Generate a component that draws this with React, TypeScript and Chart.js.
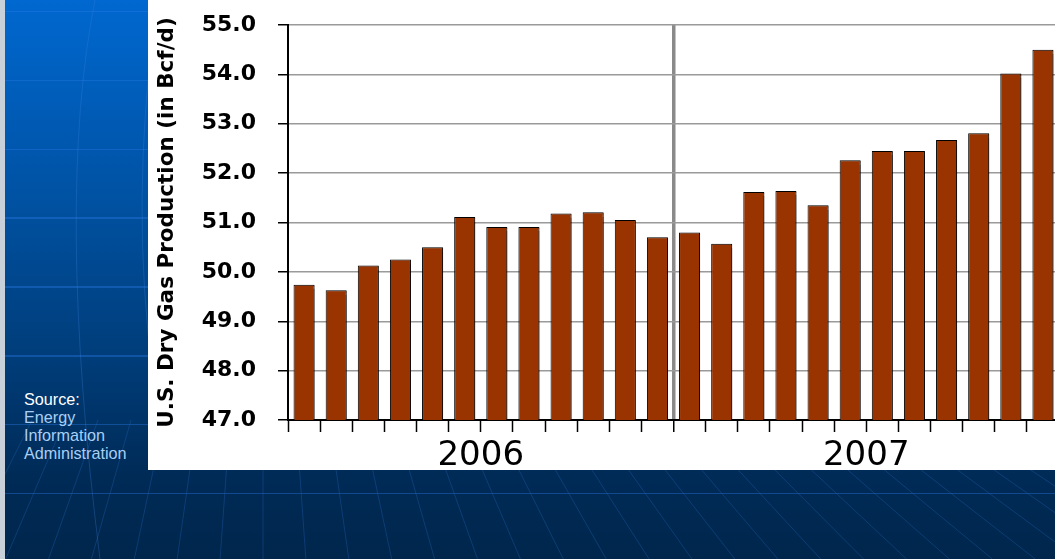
import React, { useEffect, useRef } from "react";
import { Chart, registerables } from "chart.js";

Chart.register(...registerables);

const monthLabels = [
  "Jan 2006", "Feb 2006", "Mar 2006", "Apr 2006", "May 2006", "Jun 2006",
  "Jul 2006", "Aug 2006", "Sep 2006", "Oct 2006", "Nov 2006", "Dec 2006",
  "Jan 2007", "Feb 2007", "Mar 2007", "Apr 2007", "May 2007", "Jun 2007",
  "Jul 2007", "Aug 2007", "Sep 2007", "Oct 2007", "Nov 2007", "Dec 2007",
];
const yearLabels = ["2006", "2007"];
const dryGasProduction = [
  49.74, 49.63, 50.13, 50.25, 50.5, 51.11, 50.91, 50.91, 51.18, 51.21, 51.05, 50.7,
  50.8, 50.57, 51.62, 51.64, 51.35, 52.26, 52.45, 52.45, 52.67, 52.81, 54.02, 54.5,
];
const yMin = 47;
const yMax = 55;
const yStep = 1;
const yTitle = "U.S. Dry Gas Production (in Bcf/d)";
const sourceLines = ["Energy", "Information", "Administration"];

const barShadow = {
  id: "barShadow",
  beforeDatasetsDraw(chart: any) {
    const ctx = chart.ctx;
    ctx.save();
    ctx.shadowColor = "rgba(0,0,0,0.45)";
    ctx.shadowOffsetX = 2;
    ctx.shadowOffsetY = 1;
    ctx.shadowBlur = 1;
  },
  afterDatasetsDraw(chart: any) {
    chart.ctx.restore();
  },
};

function GasChart() {
  const ref = useRef<HTMLCanvasElement | null>(null);
  useEffect(() => {
    if (!ref.current) return;
    const chart = new Chart(ref.current, {
      type: "bar",
      data: {
        labels: monthLabels,
        datasets: [
          {
            data: dryGasProduction,
            backgroundColor: "#993300",
            borderColor: "#000000",
            borderWidth: 1,
            barPercentage: 0.655,
            categoryPercentage: 1,
          },
        ],
      },
      plugins: [barShadow],
      options: {
        animation: false,
        responsive: false,
        maintainAspectRatio: false,
        layout: { padding: { top: 25, left: 0, right: 0, bottom: 0 } },
        plugins: {
          legend: { display: false },
          tooltip: { enabled: false },
        },
        scales: {
          x: {
            type: "category",
            position: "bottom",
            offset: true,
            grid: {
              offset: true,
              drawOnChartArea: true,
              drawTicks: true,
              tickLength: 12,
              color: (c: any) => (c.index === 12 ? "#8a8a8a" : "rgba(0,0,0,0)"),
              lineWidth: (c: any) => (c.index === 12 ? 3.5 : 1),
              tickColor: "#000000",
              tickWidth: 1.5,
            },
            border: { display: true, color: "#000000", width: 2 },
            ticks: { display: false },
            afterFit: (s: any) => {
              s.height = 12;
            },
          },
          x2: {
            type: "category",
            axis: "x",
            position: "bottom",
            labels: yearLabels,
            offset: true,
            grid: { display: false, drawTicks: false },
            border: { display: false },
            ticks: {
              color: "#000000",
              padding: 7,
              font: { family: "'DejaVu Sans', sans-serif", size: 34, lineHeight: 1 },
            },
            afterFit: (s: any) => {
              s.height = 38;
            },
          },
          y: {
            min: yMin,
            max: yMax,
            position: "left",
            afterFit: (s: any) => {
              s.width = 140;
              s.paddingTop = 12;
              s.paddingBottom = 12;
            },
            grid: {
              color: "#9a9a9a",
              lineWidth: 1.5,
              tickLength: 10,
              tickColor: "#000000",
              tickWidth: 1.5,
            },
            border: { display: true, color: "#000000", width: 2 },
            ticks: {
              stepSize: yStep,
              padding: 22,
              color: "#000000",
              font: { family: "'DejaVu Sans', sans-serif", size: 22, weight: "bold" },
              callback: (v: any) => Number(v).toFixed(1),
            },
            title: {
              display: true,
              text: yTitle,
              color: "#000000",
              padding: { top: 7, bottom: 0 },
              font: { family: "'DejaVu Sans', sans-serif", size: 21.5, weight: "bold", lineHeight: 1.2 },
            },
          },
        },
      } as any,
    });
    return () => chart.destroy();
  }, []);
  return (
    <canvas
      ref={ref}
      width={911}
      height={470}
      style={{ position: "absolute", left: 148, top: 0, width: 911, height: 470 }}
    />
  );
}

function Meridians() {
  const lines: React.ReactNode[] = [];
  for (let k = -7; k <= 24; k++) {
    const x0 = 263 + k * 33;
    const x1 = 263 + k * 33 * 1.3;
    lines.push(
      <line key={k} x1={x0} y1={420} x2={x1} y2={559} stroke="rgba(40,110,200,0.3)" strokeWidth={1} />
    );
  }
  return (
    <svg width={1055} height={559} style={{ position: "absolute", left: 0, top: 0 }}>
      <path d="M 95 0 Q 55 200 100 559" stroke="rgba(60,130,220,0.3)" fill="none" strokeWidth={1} />
      <path d="M 150 60 Q 130 250 160 420" stroke="rgba(60,130,220,0.3)" fill="none" strokeWidth={1} />
      {lines}
    </svg>
  );
}

export default function App() {
  useEffect(() => {
    document.body.style.margin = "0";
    document.body.style.overflow = "hidden";
    document.documentElement.style.overflow = "hidden";
  }, []);
  return (
    <div
      style={{
        position: "fixed",
        left: 0,
        top: 0,
        width: 1055,
        height: 559,
        overflow: "hidden",
        background:
          "repeating-linear-gradient(180deg, rgba(0,0,0,0) 0px, rgba(0,0,0,0) 11px, rgba(40,120,230,0.4) 11px, rgba(40,120,230,0.4) 12.5px, rgba(0,0,0,0) 12.5px, rgba(0,0,0,0) 68.8px), linear-gradient(180deg, #0068d0 0%, #0052a3 35%, #003c78 65%, #002b57 85%, #00264c 100%)",
      }}
    >
      <Meridians />
      <div style={{ position: "absolute", left: 0, top: 0, width: 5, height: 559, background: "#c8d0da" }} />
      <div style={{ position: "absolute", left: 148, top: 0, width: 907, height: 470, background: "#ffffff" }} />
      <GasChart />
      <div
        style={{
          position: "absolute",
          left: 24,
          top: 390,
          fontFamily: "'Liberation Sans', Arial, sans-serif",
          fontSize: 16.2,
          lineHeight: "18px",
          color: "#a9cff5",
        }}
      >
        <div style={{ color: "#ffffff" }}>Source:</div>
        {sourceLines.map((s) => (
          <div key={s}>{s}</div>
        ))}
      </div>
    </div>
  );
}
